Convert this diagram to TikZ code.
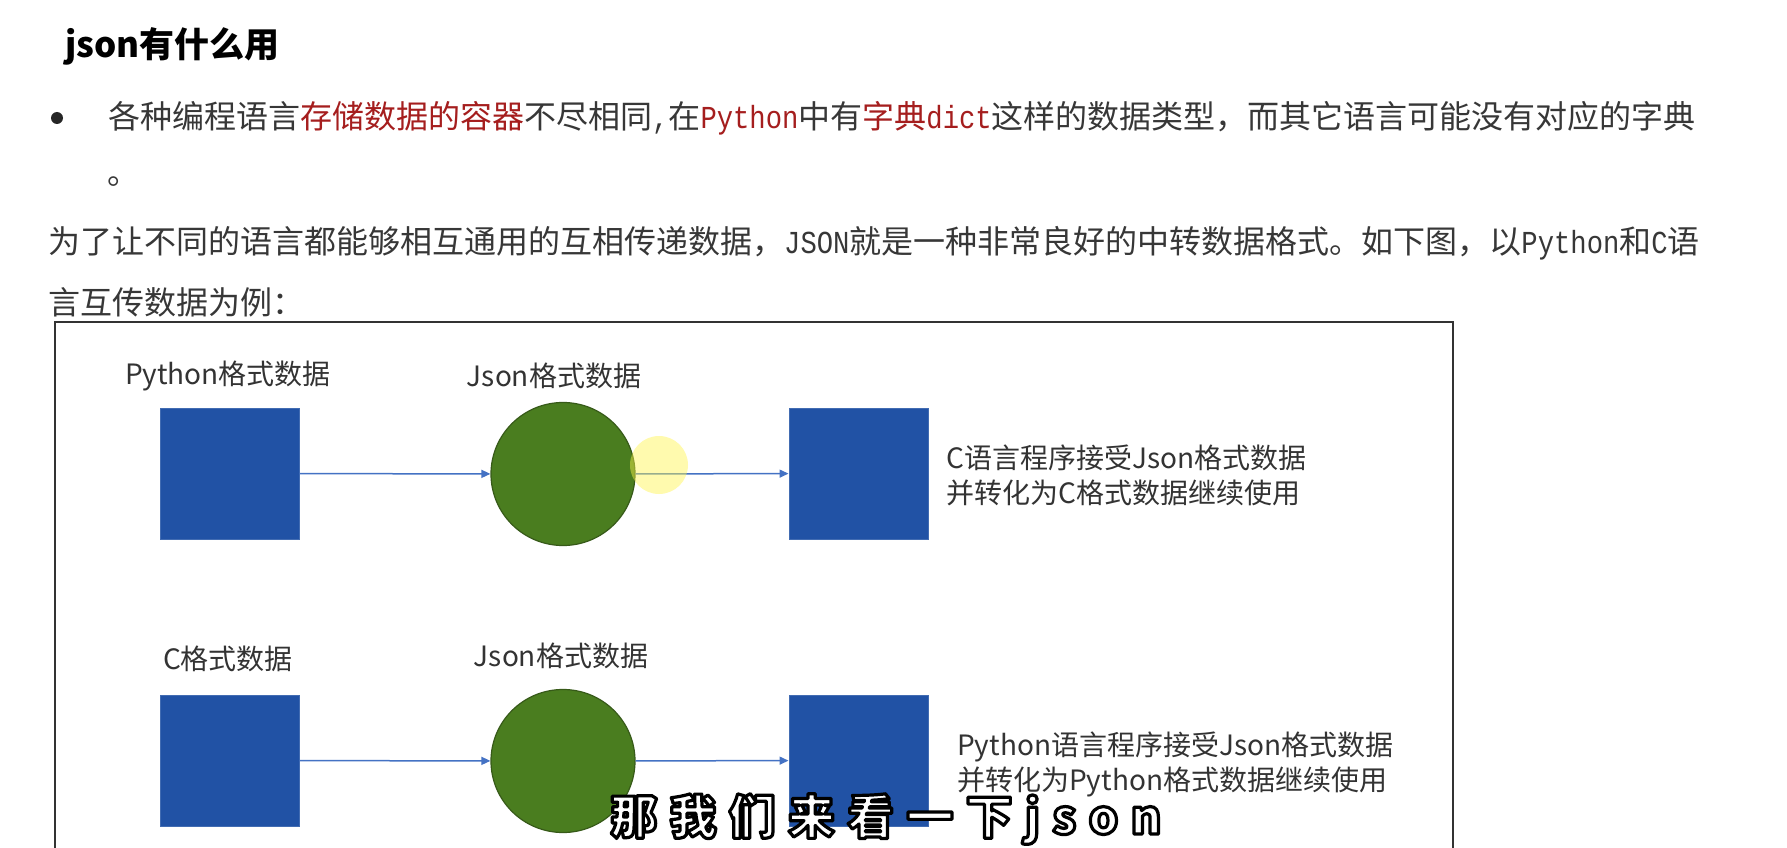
\documentclass[tikz,border=0pt]{standalone}
\usepackage{fontspec}
\usetikzlibrary{shapes.geometric,arrows.meta}
\setmainfont{Noto Sans CJK SC}
\newfontfamily\lat[FakeStretch=0.85]{Liberation Mono}
\newfontfamily\subfont[LetterSpace=26]{Noto Sans CJK SC}
\definecolor{boxblue}{RGB}{33,82,165}
\definecolor{ballgreen}{RGB}{74,125,31}
\definecolor{ballline}{RGB}{55,90,25}
\definecolor{arrowblue}{RGB}{68,114,196}
\definecolor{txtred}{RGB}{165,30,30}
\definecolor{txtgray}{RGB}{55,55,55}
\newcommand{\outlinedtext}[1]{\special{pdf:literal direct 0 0 0 RG 3.2 w 1 j 2 Tr}#1\special{pdf:literal direct 0 Tr}}
\tikzset{
  databox/.style={rectangle, fill=boxblue, draw=boxblue!85!white, line width=1pt, minimum width=139pt, minimum height=131pt, inner sep=0pt},
  jsonball/.style={ellipse, fill=ballgreen, draw=ballline, line width=1.2pt, minimum width=144pt, minimum height=143pt, inner sep=0pt},
  flow/.style={-{Triangle[length=9pt,width=8pt]}, draw=arrowblue, line width=1.5pt},
  bodytext/.style={anchor=west, inner sep=0pt, text=txtgray, font=\fontsize{32}{38}\selectfont},
  lbl/.style={inner sep=0pt, text=black!80, font=\fontsize{28}{35}\selectfont},
  desc/.style={lbl, anchor=west, align=left}
}
\begin{document}
\begin{tikzpicture}[x=1pt,y=-1pt]
\useasboundingbox (0,0) rectangle (1787,848);
\fill[white] (0,0) rectangle (1787,848);
\clip (0,0) rectangle (1787,848);

% heading and text
\node[anchor=west, inner sep=0pt, font=\fontsize{35}{40}\selectfont\bfseries] (title) at (65,46) {json有什么用};
\node[circle, fill=black!85, inner sep=0pt, minimum size=12pt] (bullet) at (57,118) {};
\node[bodytext] (line1) at (108,118) {各种编程语言\textcolor{txtred}{存储数据的容器}不尽相同{\lat ,}在\textcolor{txtred}{\lat Python}中有\textcolor{txtred}{字典{\lat dict}}这样的数据类型，而其它语言可能没有对应的字典};
\node[bodytext] (line2) at (107,182) {。};
\node[bodytext] (line3) at (48,243) {为了让不同的语言都能够相互通用的互相传递数据，{\lat JSON}就是一种非常良好的中转数据格式。如下图，以{\lat Python}和{\lat C}语};
\node[bodytext] (line4) at (48,302) {言互传数据为例：};

% frame
\draw[line width=2pt, draw=black!80] (55,880) -- (55,322) -- (1453,322) -- (1453,880);

% row 1
\node[lbl] (lpyA) at (228,376) {Python格式数据};
\node[lbl] (ljsA) at (554,376) {Json格式数据};
\node[databox] (pyA) at (229.5,473.5) {};
\node[jsonball] (jsA) at (563,474) {};
\node[databox] (cA) at (858.5,473.5) {};
\draw[flow] (pyA) -- (jsA);
\draw[flow] (jsA) -- (cA);
\node[desc] (dA) at (946,475.5) {C语言程序接受Json格式数据\\并转化为C格式数据继续使用};
\fill[yellow!70!white, opacity=0.45] (659,465) circle (29pt);

% row 2
\node[lbl] (lcB) at (228,659) {C格式数据};
\node[lbl] (ljsB) at (561,656) {Json格式数据};
\node[databox] (cB) at (229.5,760.5) {};
\node[jsonball] (jsB) at (563,761) {};
\node[databox] (pyB) at (858.5,760.5) {};
\draw[flow] (cB) -- (jsB);
\draw[flow] (jsB) -- (pyB);
\node[desc] (dB) at (957,764) {Python语言程序接受Json格式数据\\并转化为Python格式数据继续使用};

% subtitle
\node[inner sep=0pt, font=\fontsize{47}{50}\selectfont\subfont\bfseries, text=white] (sub) at (886,819) {\outlinedtext{那我们来看一下json}};
\end{tikzpicture}
\end{document}
